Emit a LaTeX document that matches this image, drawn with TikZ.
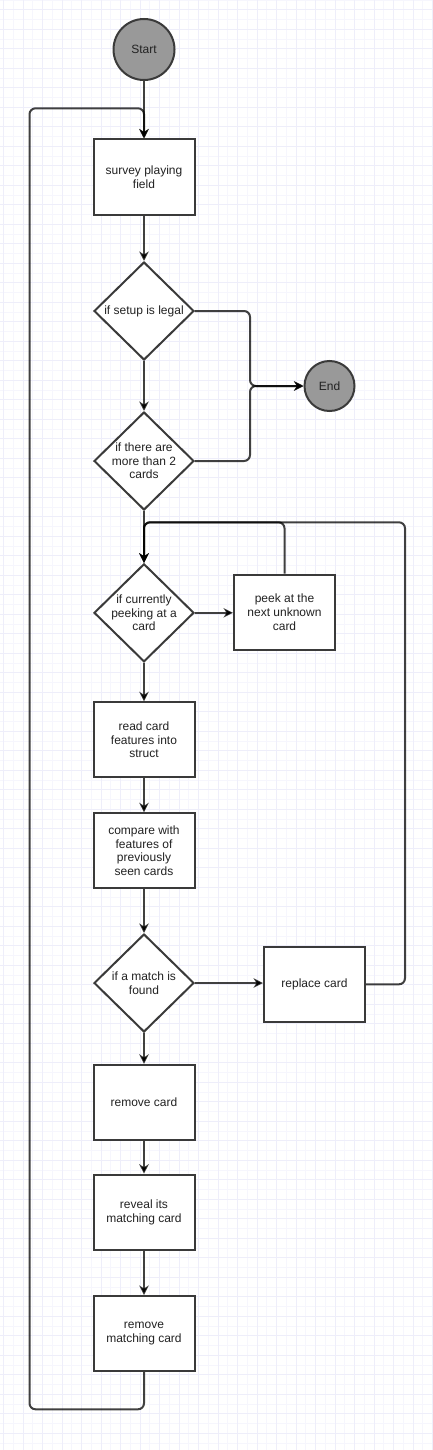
\documentclass[tikz,border=0pt]{standalone}
\usepackage{fontspec}
\setmainfont{Liberation Sans}
\usetikzlibrary{shapes.geometric,arrows.meta}
\definecolor{stroke}{HTML}{3A3A3A}
\definecolor{txt}{HTML}{222222}
\definecolor{gfill}{HTML}{999999}
\definecolor{gridA}{HTML}{F6F6FD}
\definecolor{gridB}{HTML}{EEEEFA}
\tikzset{
 base/.style={draw=stroke, line width=2pt, font=\fontsize{12pt}{13.6pt}\selectfont, text=txt, align=center},
 proc/.style={base, rectangle, fill=white, minimum width=101pt, minimum height=75pt, inner sep=2pt},
 dec/.style={base, diamond, fill=white, minimum width=100pt, minimum height=98pt, inner sep=-6pt},
 term/.style={base, circle, fill=gfill, inner sep=0pt},
 conn/.style={draw=black, draw opacity=0.75, line width=2pt, rounded corners=6pt,
   -{Stealth[length=9.5pt,width=9.5pt,inset=3pt]}},
 gridlineA/.style={draw=gridA, line width=0.8pt},
 gridlineB/.style={draw=gridB, line width=0.8pt},
}
\begin{document}
\begin{tikzpicture}[x=1pt,y=-1pt]
\useasboundingbox (0,0) rectangle (433,1450);
\fill[white] (0,0) rectangle (433,1450);
% grid
\foreach \x in {13.25,32.75,...,433} \draw[gridlineA] (\x,0) -- (\x,1450);
\foreach \y in {0.05,19.55,...,1450} \draw[gridlineA] (0,\y) -- (433,\y);
\foreach \x in {3.5,23,...,433} \draw[gridlineB] (\x,0) -- (\x,1450);
\foreach \y in {9.8,29.3,...,1450} \draw[gridlineB] (0,\y) -- (433,\y);

% nodes
\node[term, minimum size=61pt] (start) at (144,49.5) {Start};
\node[proc] (survey) at (144,177) {survey playing\\field};
\node[dec] (d1) at (144,311) {if setup is legal};
\node[dec] (d2) at (144,461) {if there are\\more than 2\\cards};
\node[term, minimum size=50pt] (end) at (329.5,386) {End};
\node[dec] (d3) at (144,612.8) {if currently\\peeking at a\\card};
\node[proc] (peek) at (284.5,612.2) {peek at the\\next unknown\\card};
\node[proc] (read) at (144,739.8) {read card\\features into\\struct};
\node[proc] (cmp) at (144,850.8) {compare with\\features of\\previously\\seen cards};
\node[dec] (d4) at (144,983) {if a match is\\found};
\node[proc] (rep) at (314.5,984.3) {replace card};
\node[proc] (rem) at (144,1102.3) {remove card};
\node[proc] (rev) at (144,1212.2) {reveal its\\matching card};
\node[proc] (rmm) at (144,1333.5) {remove\\matching card};

% helper coordinates
\coordinate (lb) at (29.5,1409.3);
\coordinate (lt) at (29.5,108.3);
\coordinate (jt) at (144,522.3);
\coordinate (rt) at (405,522.3);
\coordinate (je) at (250,386);

% connectors
\draw[conn] (start) -- (survey);
\draw[conn] (rmm.south) |- (lb) -- (lt) -| (survey.north);
\draw[conn] (survey) -- (d1);
\draw[conn] (d1) -- (d2);
\draw[conn] (d1.east) -| (je) -- (end.west);
\draw[conn] (d2.east) -| (je) -- (end.west);
\draw[conn] (d2) -- (d3);
\draw[conn] (d3.east) -- (d3.east -| peek.west);
\draw[conn] (peek.north) |- (jt) -- (d3.north);
\draw[conn] (rep.east) -| (rt) -- (jt) -- (d3.north);
\draw[conn] (d3) -- (read);
\draw[conn] (read) -- (cmp);
\draw[conn] (cmp) -- (d4);
\draw[conn] (d4.east) -- (d4.east -| rep.west);
\draw[conn] (d4) -- (rem);
\draw[conn] (rem) -- (rev);
\draw[conn] (rev) -- (rmm);
\end{tikzpicture}
\end{document}
